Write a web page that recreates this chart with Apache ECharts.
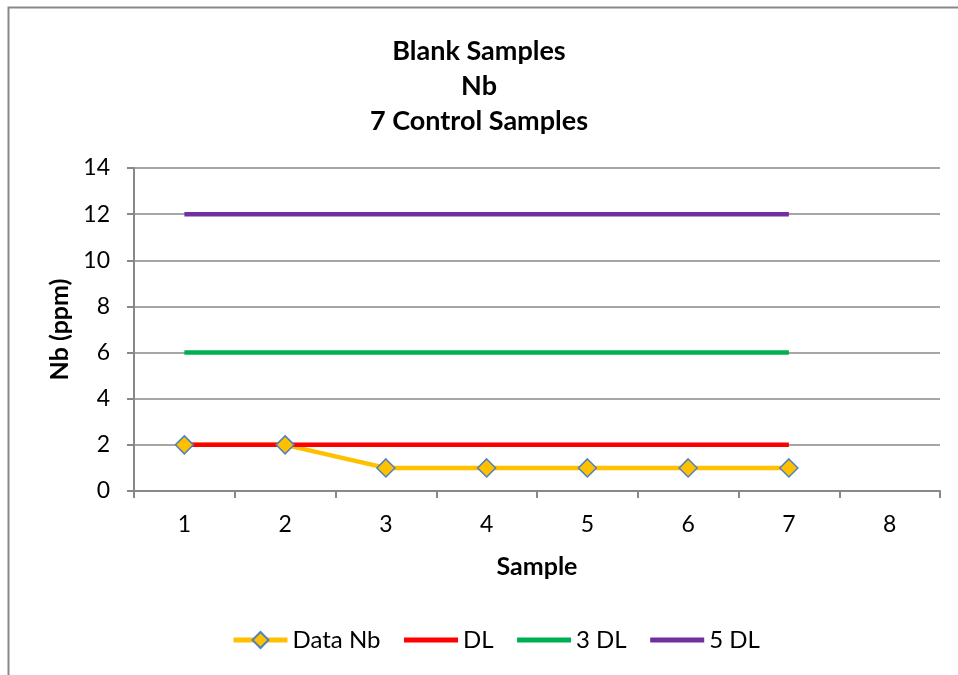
<!DOCTYPE html>
<html>
<head>
<meta charset="utf-8">
<script src="https://cdn.jsdelivr.net/npm/echarts@6/dist/echarts.min.js"></script>
<style>
  html, body { margin: 0; padding: 0; background: #fff; }
  #chart { width: 958px; height: 675px; }
</style>
</head>
<body>
<div id="chart"></div>
<script>
// category labels on the x axis
const samples = ["1", "2", "3", "4", "5", "6", "7", "8"];
// measured values and limits
const dataNb = [2, 2, 1, 1, 1, 1, 1, null];
const dl = [2, 2, 2, 2, 2, 2, 2, null];
const dl3 = [6, 6, 6, 6, 6, 6, 6, null];
const dl5 = [12, 12, 12, 12, 12, 12, 12, null];

const font = "Lato";
const chart = echarts.init(document.getElementById("chart"));

const lineSeries = (name, data, color) => ({
  name: name,
  type: "line",
  data: data,
  symbol: "none",
  lineStyle: { color: color, width: 4.5 },
  itemStyle: { color: color },
  animation: false,
});

chart.setOption({
  backgroundColor: "#fff",
  textStyle: { fontFamily: font },
  graphic: [
    {
      type: "rect",
      shape: { x: 8.5, y: 7.5, width: 1000, height: 1000 },
      style: { fill: "none", stroke: "#888", lineWidth: 2 },
      silent: true,
    },
  ],
  title: {
    text: "Blank Samples\nNb\n7 Control Samples",
    left: "center",
    top: 29,
    textStyle: {
      fontFamily: font,
      fontSize: 27,
      fontWeight: "bold",
      color: "#000",
      lineHeight: 35,
    },
  },
  legend: {
    bottom: 18,
    left: 226,
    itemWidth: 54,
    itemHeight: 20,
    itemGap: 21,
    textStyle: { fontFamily: font, fontSize: 24, color: "#000" },
    lineStyle: { width: 5 },
    data: [
      { name: "Data Nb" },
      { name: "DL", itemStyle: { opacity: 0 } },
      { name: "3 DL", itemStyle: { opacity: 0 } },
      { name: "5 DL", itemStyle: { opacity: 0 } },
    ],
  },
  grid: { left: 134, right: 18, top: 168, bottom: 184 },
  xAxis: {
    type: "category",
    data: samples,
    boundaryGap: true,
    name: "Sample",
    nameLocation: "middle",
    nameGap: 63,
    nameTextStyle: { fontFamily: font, fontSize: 25, fontWeight: "bold", color: "#000" },
    axisLine: { lineStyle: { color: "#888", width: 2 } },
    axisTick: { show: true, length: 7, alignWithLabel: false, lineStyle: { color: "#888", width: 2 } },
    axisLabel: { fontFamily: font, fontSize: 23, color: "#000", margin: 22 },
  },
  yAxis: {
    type: "value",
    min: 0,
    max: 14,
    interval: 2,
    name: "Nb (ppm)",
    nameLocation: "middle",
    nameGap: 61,
    nameTextStyle: { fontFamily: font, fontSize: 25, fontWeight: "bold", color: "#000" },
    axisLine: { show: true, lineStyle: { color: "#888", width: 2 } },
    axisTick: { show: true, length: 7, inside: false, lineStyle: { color: "#888", width: 2 } },
    axisLabel: { fontFamily: font, fontSize: 23, color: "#000", margin: 24 },
    splitLine: { lineStyle: { color: "#888", width: 1.5 } },
  },
  series: [
    {
      name: "Data Nb",
      type: "line",
      data: dataNb,
      symbol: "diamond",
      symbolSize: 18,
      lineStyle: { color: "#FFC000", width: 4.5 },
      itemStyle: { color: "#FFC000", borderColor: "#4F81BD", borderWidth: 1.5 },
      animation: false,
    },
    lineSeries("DL", dl, "#FF0000"),
    lineSeries("3 DL", dl3, "#00B050"),
    lineSeries("5 DL", dl5, "#7030A0"),
  ],
});
</script>
</body>
</html>
